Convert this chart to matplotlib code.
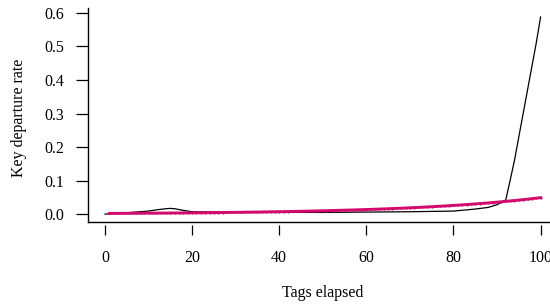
import numpy as np
import matplotlib
matplotlib.use('Agg')
import matplotlib.pyplot as plt

plt.rcParams['font.family'] = ['Liberation Serif', 'DejaVu Serif']

# observed departure rate (black line)
obs_x = [0, 5, 10, 12, 14, 15, 16, 18, 20, 30, 40, 50, 60, 70, 80, 85, 88, 90, 92,
         93, 94, 95, 96, 97, 98, 99, 100]
obs_y = [0.0, 0.004, 0.009, 0.013, 0.016, 0.017, 0.016, 0.011, 0.007, 0.005, 0.005,
         0.005, 0.006, 0.007, 0.009, 0.015, 0.020, 0.028, 0.042,
         0.10, 0.16, 0.23, 0.30, 0.37, 0.44, 0.51, 0.588]

# fitted rate (pink line with points), tags 1..100
fit_x = np.arange(1, 101)
fit_y = [0.0021, 0.0021, 0.0022, 0.0023, 0.0023, 0.0024, 0.0025, 0.0026, 0.0027, 0.0028,
         0.0028, 0.0029, 0.0030, 0.0031, 0.0032, 0.0033, 0.0034, 0.0035, 0.0037, 0.0038,
         0.0039, 0.0040, 0.0042, 0.0043, 0.0045, 0.0046, 0.0047, 0.0049, 0.0051, 0.0052,
         0.0054, 0.0056, 0.0058, 0.0060, 0.0061, 0.0063, 0.0066, 0.0068, 0.0070, 0.0072,
         0.0074, 0.0077, 0.0079, 0.0082, 0.0084, 0.0087, 0.0090, 0.0093, 0.0096, 0.0099,
         0.0102, 0.0106, 0.0109, 0.0113, 0.0116, 0.0120, 0.0124, 0.0128, 0.0132, 0.0136,
         0.0141, 0.0145, 0.0150, 0.0155, 0.0160, 0.0165, 0.0171, 0.0176, 0.0182, 0.0188,
         0.0194, 0.0200, 0.0207, 0.0214, 0.0221, 0.0228, 0.0235, 0.0243, 0.0251, 0.0259,
         0.0267, 0.0276, 0.0285, 0.0294, 0.0304, 0.0314, 0.0324, 0.0334, 0.0345, 0.0356,
         0.0368, 0.0380, 0.0392, 0.0405, 0.0418, 0.0431, 0.0445, 0.0460, 0.0475, 0.0490]

xticks = [0, 20, 40, 60, 80, 100]
yticks = [0.0, 0.1, 0.2, 0.3, 0.4, 0.5, 0.6]

W, H = 550, 304
fig = plt.figure(figsize=(W/100, H/100), dpi=100)
# axes box in pixels (left, right, bottom, top); right edge runs past the figure
l, r, b, t = 87.6, 558.0, 82.0, 295.6
ax = fig.add_axes([l/W, b/H, (r-l)/W, (t-b)/H])

ax.plot(obs_x, obs_y, c='k', lw=0.9)
ax.plot(fit_x, fit_y, c='#d20a6c', lw=2.1, marker='o', ms=1.6, mew=0)

ax.set_xlim(-4, 104)
ax.set_ylim(-0.0236, 0.6136)

for s in ['top', 'right']:
    ax.spines[s].set_visible(False)
ax.spines['left'].set_linewidth(1.0)
ax.spines['bottom'].set_linewidth(1.0)

ax.set_yticks(yticks)
ax.set_yticklabels(['%.1f' % v for v in yticks])
ax.tick_params(axis='y', length=9, width=0.9, pad=8, labelsize=11.5)
ax.set_xticks([])

# x ticks sit slightly below the bottom line
sec = ax.secondary_xaxis(-3/(t-b))
sec.spines['bottom'].set_visible(False)
sec.set_xticks(xticks)
sec.set_xticklabels([str(v) for v in xticks])
sec.tick_params(axis='x', length=7, width=0.9, pad=11, labelsize=11.5)

fig.text(((l+r)/2)/W, 1-293/H, 'Tags elapsed', ha='center', va='center', fontsize=11.5)
fig.text(19/W, 1-118/H, 'Key departure rate', ha='center', va='center',
         rotation=90, fontsize=11.5)

fig.savefig('out.png', dpi=100)
